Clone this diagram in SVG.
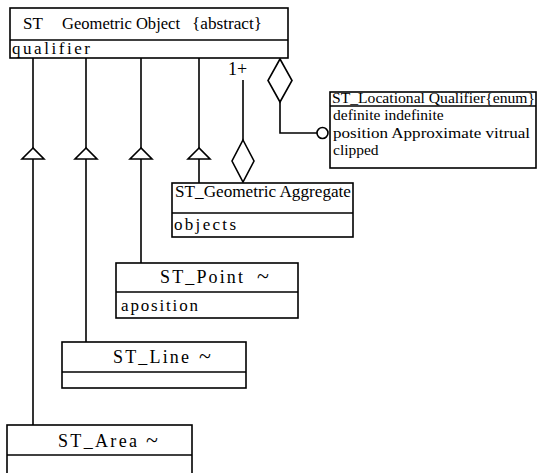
<svg xmlns="http://www.w3.org/2000/svg" width="537" height="473" viewBox="0 0 537 473">
<style>
  .box { fill: #fff; stroke: #000; stroke-width: 1.6; }
  .ln { fill: none; stroke: #000; stroke-width: 1.6; }
  .hd { font-family: "Liberation Serif", "Times New Roman", serif; font-size: 17px; fill: #000; }
  .cl { font-family: "Liberation Serif", "Times New Roman", serif; font-size: 18px; fill: #000; }
  .tl { font-family: "Liberation Serif", "Times New Roman", serif; font-size: 22px; fill: #000; }
  .at { font-family: "Liberation Serif", "Times New Roman", serif; font-size: 17px; fill: #000; }
  .sm { font-family: "Liberation Serif", "Times New Roman", serif; font-size: 15.5px; fill: #000; }
</style>
<rect width="537" height="473" fill="#fff"/>
<g id="connectors">
  <line class="ln" x1="33" y1="58" x2="33" y2="148"/>
  <line class="ln" x1="33" y1="159" x2="33" y2="425"/>
  <polygon class="box" points="33,148 22,159 44,159"/>
  <line class="ln" x1="86" y1="58" x2="86" y2="148"/>
  <line class="ln" x1="86" y1="159" x2="86" y2="342"/>
  <polygon class="box" points="86,148 75,159 97,159"/>
  <line class="ln" x1="141" y1="58" x2="141" y2="148"/>
  <line class="ln" x1="141" y1="159" x2="141" y2="263"/>
  <polygon class="box" points="141,148 130,159 152,159"/>
  <line class="ln" x1="199" y1="58" x2="199" y2="148"/>
  <line class="ln" x1="199" y1="159" x2="199" y2="183"/>
  <polygon class="box" points="199,148 188,159 210,159"/>
  <line class="ln" x1="243" y1="80" x2="243" y2="140"/>
  <polygon class="box" points="243,140 254,161 243,182 232,161"/>
  <text class="cl" x="228" y="75">1+</text>
  <polygon class="box" points="280,59 292,80.5 280,102 268,80.5"/>
  <polyline class="ln" points="280,102 280,133 317,133"/>
  <circle class="box" cx="322.5" cy="133" r="5.5"/>
</g>
<g id="geometric-object">
  <rect class="box" x="10" y="8" width="278" height="50"/>
  <line class="ln" x1="10" y1="40" x2="288" y2="40"/>
  <text class="hd" y="29"><tspan x="23">ST</tspan><tspan x="62" textLength="118" lengthAdjust="spacingAndGlyphs">Geometric Object</tspan><tspan x="192" textLength="70" lengthAdjust="spacingAndGlyphs">{abstract}</tspan></text>
  <text class="at" x="12" y="54" textLength="78" lengthAdjust="spacing">qualifier</text>
</g>
<g id="locational-qualifier">
  <rect class="box" x="330" y="92" width="206" height="76"/>
  <line class="ln" x1="330" y1="106" x2="536" y2="106"/>
  <text class="sm" x="332" y="103" textLength="203" lengthAdjust="spacingAndGlyphs">ST_Locational Qualifier{enum}</text>
  <text class="sm" x="333" y="120">definite indefinite</text>
  <text class="sm" x="333" y="138" textLength="197" lengthAdjust="spacingAndGlyphs">position Approximate vitrual</text>
  <text class="sm" x="333" y="155">clipped</text>
</g>
<g id="geometric-aggregate">
  <rect class="box" x="172" y="183" width="181" height="54"/>
  <line class="ln" x1="172" y1="213" x2="353" y2="213"/>
  <text class="hd" x="175" y="197" textLength="176" lengthAdjust="spacingAndGlyphs">ST_Geometric Aggregate</text>
  <text class="at" x="174" y="230" textLength="62" lengthAdjust="spacing">objects</text>
</g>
<g id="st-point">
  <rect class="box" x="116" y="263" width="182" height="55"/>
  <line class="ln" x1="116" y1="292" x2="298" y2="292"/>
  <text class="cl" y="283"><tspan x="160" textLength="83" lengthAdjust="spacing">ST_Point</tspan><tspan class="tl" x="257">~</tspan></text>
  <text class="at" x="121" y="311" textLength="77" lengthAdjust="spacing">aposition</text>
</g>
<g id="st-line">
  <rect class="box" x="62" y="342" width="184" height="46"/>
  <line class="ln" x1="62" y1="372" x2="246" y2="372"/>
  <text class="cl" y="363"><tspan x="113" textLength="76" lengthAdjust="spacing">ST_Line</tspan><tspan class="tl" x="199">~</tspan></text>
</g>
<g id="st-area">
  <rect class="box" x="7" y="425" width="185" height="50"/>
  <line class="ln" x1="7" y1="455" x2="192" y2="455"/>
  <text class="cl" y="447"><tspan x="58" textLength="79" lengthAdjust="spacing">ST_Area</tspan><tspan class="tl" x="146">~</tspan></text>
</g>
</svg>
